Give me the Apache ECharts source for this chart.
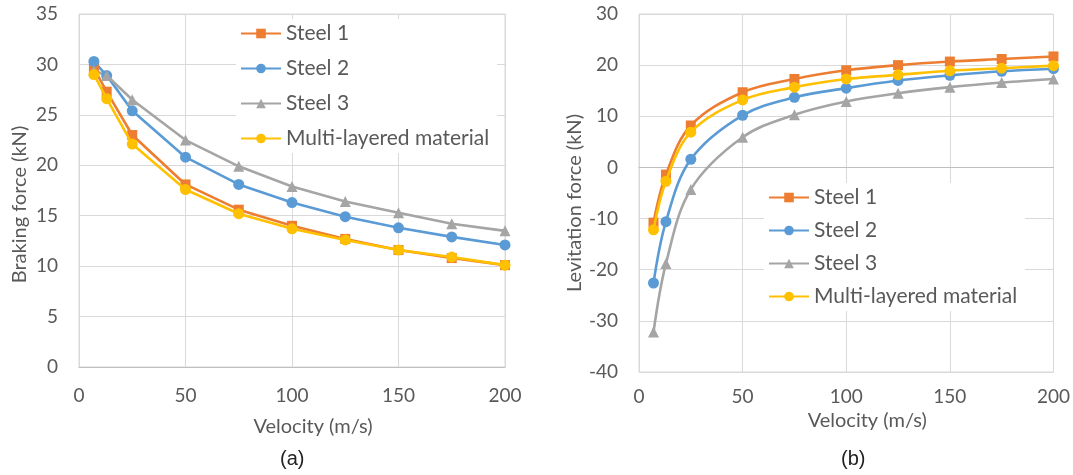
<!DOCTYPE html>
<html>
<head>
<meta charset="utf-8">
<script src="https://cdn.jsdelivr.net/npm/echarts@6/dist/echarts.min.js"></script>
<style>html,body{margin:0;padding:0;background:#fff;}#c{width:1073px;height:475px;}</style>
</head>
<body>
<div id="c"></div>
<script>
const velocity = [7, 13, 25, 50, 75, 100, 125, 150, 175, 200];
const seriesNames = ['Steel 1', 'Steel 2', 'Steel 3', 'Multi-layered material'];
// (a) Braking force (kN)
const braking1 = [29.6, 27.3, 23.0, 18.1, 15.6, 14.0, 12.7, 11.6, 10.8, 10.1];
const braking2 = [30.3, 28.9, 25.4, 20.8, 18.1, 16.3, 14.9, 13.8, 12.9, 12.1];
const braking3 = [29.4, 28.9, 26.5, 22.5, 19.9, 17.9, 16.4, 15.3, 14.2, 13.5];
const brakingM = [29.0, 26.6, 22.1, 17.6, 15.2, 13.7, 12.6, 11.6, 10.9, 10.1];
// (b) Levitation force (kN)
const lev1 = [-10.8, -1.4, 8.2, 14.7, 17.3, 19.0, 20.0, 20.7, 21.2, 21.7];
const lev2 = [-22.6, -10.6, 1.6, 10.2, 13.7, 15.5, 17.0, 18.0, 18.8, 19.3];
const lev3 = [-32.2, -18.8, -4.3, 5.9, 10.3, 12.9, 14.5, 15.7, 16.6, 17.3];
const levM = [-12.2, -2.7, 6.9, 13.2, 15.7, 17.3, 18.1, 18.9, 19.4, 19.9];
const xTicks = [0, 50, 100, 150, 200];

const colors = ['#ED7D31', '#5B9BD5', '#A5A5A5', '#FFC000'];
const symbols = ['rect', 'circle', 'triangle', 'circle'];
const symSizes = [10, 11, 11, 11];
const FONT = 'Lato';
const txt = '#595959';

function pts(ys){ return velocity.map((v,i)=>[v, ys[i]]); }

function mkSeries(data, idx, gi, smooth){
  return {
    name: seriesNames[idx], type: 'line', xAxisIndex: gi, yAxisIndex: gi,
    data: pts(data), smooth: smooth ? 0.35 : false,
    symbol: symbols[idx], symbolSize: symSizes[idx], showAllSymbol: true,
    lineStyle: {color: colors[idx], width: 2.6},
    itemStyle: {color: colors[idx]},
    z: 3 + (idx===3?1:0)
  };
}

function xAx(gi, nameGap, margin){
  return {
    type: 'value', gridIndex: gi, min: 0, max: 200, interval: 50,
    name: 'Velocity (m/s)', nameLocation: 'middle', nameGap: nameGap,
    nameTextStyle: {fontFamily: FONT, fontSize: 20, color: txt, padding: [0, 0, 0, 42]},
    axisLine: {show: true, lineStyle: {color: '#BFBFBF', width: 1}},
    axisTick: {show: false},
    axisLabel: {fontFamily: FONT, fontSize: 19, color: txt, margin: margin},
    splitLine: {show: true, lineStyle: {color: '#D9D9D9', width: 1}}
  };
}
function yAx(gi, min, max, name, nameGap, shift){
  return {
    type: 'value', gridIndex: gi, min: min, max: max, interval: 5 * (gi===0?1:2),
    name: name, nameLocation: 'middle', nameGap: nameGap, nameRotate: 90,
    nameTextStyle: {fontFamily: FONT, fontSize: 20, color: txt, padding: [0, shift, 0, 0]},
    axisLine: {show: false}, axisTick: {show: false},
    axisLabel: {fontFamily: FONT, fontSize: 19, color: txt, margin: 21},
    splitLine: {show: true, lineStyle: {color: '#D9D9D9', width: 1}}
  };
}

const legendBase = {
  data: seriesNames, orient: 'vertical', itemWidth: 40, itemHeight: 12,
  textStyle: {fontFamily: FONT, fontSize: 21, color: txt},
  backgroundColor: '#fff', padding: [4, 8, 4, 4], selectedMode: false
};

const chart = echarts.init(document.getElementById('c'), null, {renderer: 'canvas'});
chart.setOption({
  animation: false,
  backgroundColor: '#fff',
  title: [
    {text: '(a)', left: 275, top: 444, textStyle: {fontFamily: 'Liberation Sans', fontWeight: 'normal', fontSize: 20, color: '#222'}},
    {text: '(b)', left: 836, top: 444, textStyle: {fontFamily: 'Liberation Sans', fontWeight: 'normal', fontSize: 20, color: '#222'}}
  ],
  grid: [
    {left: 79, top: 14, width: 426, height: 353, show: true, borderColor: '#D9D9D9', borderWidth: 1, backgroundColor: 'transparent'},
    {left: 639, top: 14, width: 415, height: 358, show: true, borderColor: '#D9D9D9', borderWidth: 1, backgroundColor: 'transparent'}
  ],
  xAxis: [xAx(0, 50, 19), xAx(1, 36, 15)],
  yAxis: [yAx(0, 0, 35, 'Braking force (kN)', 49, 28), yAx(1, -40, 30, 'Levitation force (kN)', 47, 20)],
  legend: [
    Object.assign({}, legendBase, {left: 236, top: 19, itemGap: 14}),
    Object.assign({}, legendBase, {left: 764, top: 183, itemGap: 12})
  ],
  series: [
    mkSeries(braking1, 0, 0, false),
    mkSeries(braking2, 1, 0, false),
    mkSeries(braking3, 2, 0, false),
    mkSeries(brakingM, 3, 0, false),
    mkSeries(lev1, 0, 1, true),
    mkSeries(lev2, 1, 1, true),
    mkSeries(lev3, 2, 1, true),
    mkSeries(levM, 3, 1, true)
  ]
});
</script>
</body>
</html>
